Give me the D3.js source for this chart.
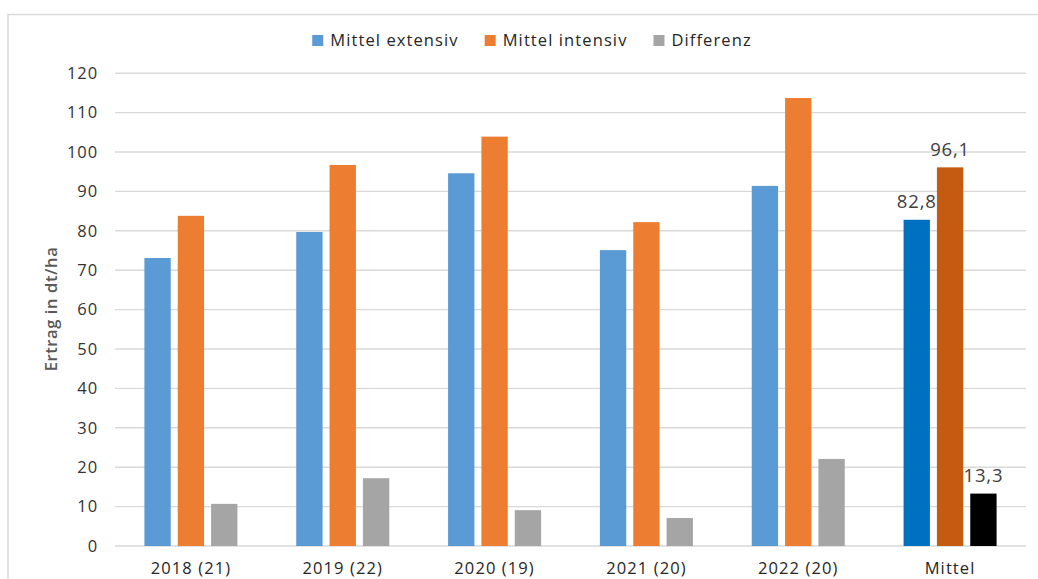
<!DOCTYPE html>
<html>
<head>
<meta charset="utf-8">
<script src="https://cdn.jsdelivr.net/npm/d3@7"></script>
<style>
  html, body { margin: 0; padding: 0; background: #fff; }
  svg { display: block; }
  text { font-family: "Open Sans", sans-serif; }
</style>
</head>
<body>
<svg id="chart" width="1038" height="579"></svg>
<script>
const categories = ["2018 (21)", "2019 (22)", "2020 (19)", "2021 (20)", "2022 (20)", "Mittel"];
const seriesNames = ["Mittel extensiv", "Mittel intensiv", "Differenz"];
const extensiv = [73.1, 79.7, 94.6, 75.1, 91.4, 82.8];
const intensiv = [83.8, 96.7, 103.9, 82.2, 113.7, 96.1];
const differenz = [10.7, 17.2, 9.1, 7.1, 22.1, 13.3];
const seriesColors = ["#5B9BD5", "#ED7D31", "#A5A5A5"];
const mittelColors = ["#0070C0", "#C55A11", "#000000"];
const yTicks = [0, 10, 20, 30, 40, 50, 60, 70, 80, 90, 100, 110, 120];
const labelledCategory = "Mittel";
const yTitle = "Ertrag in dt/ha";

(function() {
const seriesValues = [extensiv, intensiv, differenz];

const svg = d3.select("#chart");
const plotLeft = 115, plotRight = 1026, plotTop = 73.2, plotBottom = 546;

// outer chart frame (partly cropped)
svg.append("rect")
  .attr("x", 8).attr("y", 14.5)
  .attr("width", 1100).attr("height", 700)
  .attr("fill", "none").attr("stroke", "#d9d9d9").attr("stroke-width", 1.5);

const x0 = d3.scaleBand().domain(categories).range([plotLeft, plotRight]).paddingInner(0).paddingOuter(0);
const x1 = d3.scaleBand().domain(seriesNames).range([0, x0.bandwidth()]).paddingInner(0.21).paddingOuter(0.882);
const y = d3.scaleLinear().domain([0, 120]).range([plotBottom, plotTop]);

// gridlines
svg.append("g").selectAll("line").data(yTicks).join("line")
  .attr("x1", plotLeft).attr("x2", plotRight)
  .attr("y1", d => y(d)).attr("y2", d => y(d))
  .attr("stroke", "#d9d9d9").attr("stroke-width", 1.4);

// y axis labels
svg.append("g").selectAll("text").data(yTicks).join("text")
  .attr("x", 98).attr("y", d => y(d) + 5.8)
  .attr("text-anchor", "end")
  .attr("font-size", 16.5).attr("letter-spacing", 0.9)
  .attr("fill", "#333333")
  .text(d => d);

// y title
svg.append("text")
  .attr("transform", `translate(57, 309) rotate(-90)`)
  .attr("text-anchor", "middle")
  .attr("font-size", 16.5).attr("font-weight", 600).attr("letter-spacing", 0.6)
  .attr("fill", "#595959")
  .text(yTitle);

// bars
const groups = svg.append("g").selectAll("g").data(categories).join("g")
  .attr("transform", d => `translate(${x0(d)},0)`);

groups.each(function(cat, ci) {
  const g = d3.select(this);
  seriesNames.forEach((s, si) => {
    const v = seriesValues[si][ci];
    const color = cat === labelledCategory ? mittelColors[si] : seriesColors[si];
    g.append("rect")
      .attr("x", x1(s)).attr("width", x1.bandwidth())
      .attr("y", y(v)).attr("height", y(0) - y(v))
      .attr("fill", color);
    if (cat === labelledCategory) {
      g.append("text")
        .attr("x", x1(s) + x1.bandwidth() / 2)
        .attr("y", y(v) - 11.5)
        .attr("text-anchor", "middle")
        .attr("font-size", 18.5).attr("letter-spacing", 0.8)
        .attr("fill", "#404040")
        .text(d3.format(".1f")(v).replace(".", ","));
    }
  });
});

// category labels
svg.append("g").selectAll("text").data(categories).join("text")
  .attr("x", d => x0(d) + x0.bandwidth() / 2)
  .attr("y", 573.5)
  .attr("text-anchor", "middle")
  .attr("font-size", 16.5).attr("letter-spacing", 1.1)
  .attr("fill", "#262626")
  .text(d => d);

// legend
const legend = svg.append("g");
const items = legend.selectAll("g").data(seriesNames).join("g");
items.append("rect").attr("width", 11).attr("height", 11).attr("y", 35)
  .attr("fill", (d, i) => seriesColors[i]);
items.append("text").attr("x", 18).attr("y", 45.5)
  .attr("font-size", 16.5).attr("letter-spacing", 1.1)
  .attr("fill", "#262626")
  .text(d => d);
const widths = [];
items.each(function() {
  widths.push(d3.select(this).select("text").node().getComputedTextLength());
});
const gap = 26;
const total = widths.reduce((a, w) => a + 18 + w, 0) + gap * (widths.length - 1);
let startX = 532 - total / 2;
items.attr("transform", (d, i) => {
  const t = `translate(${startX},0)`;
  startX += 18 + widths[i] + gap;
  return t;
});
})();
</script>
</body>
</html>
